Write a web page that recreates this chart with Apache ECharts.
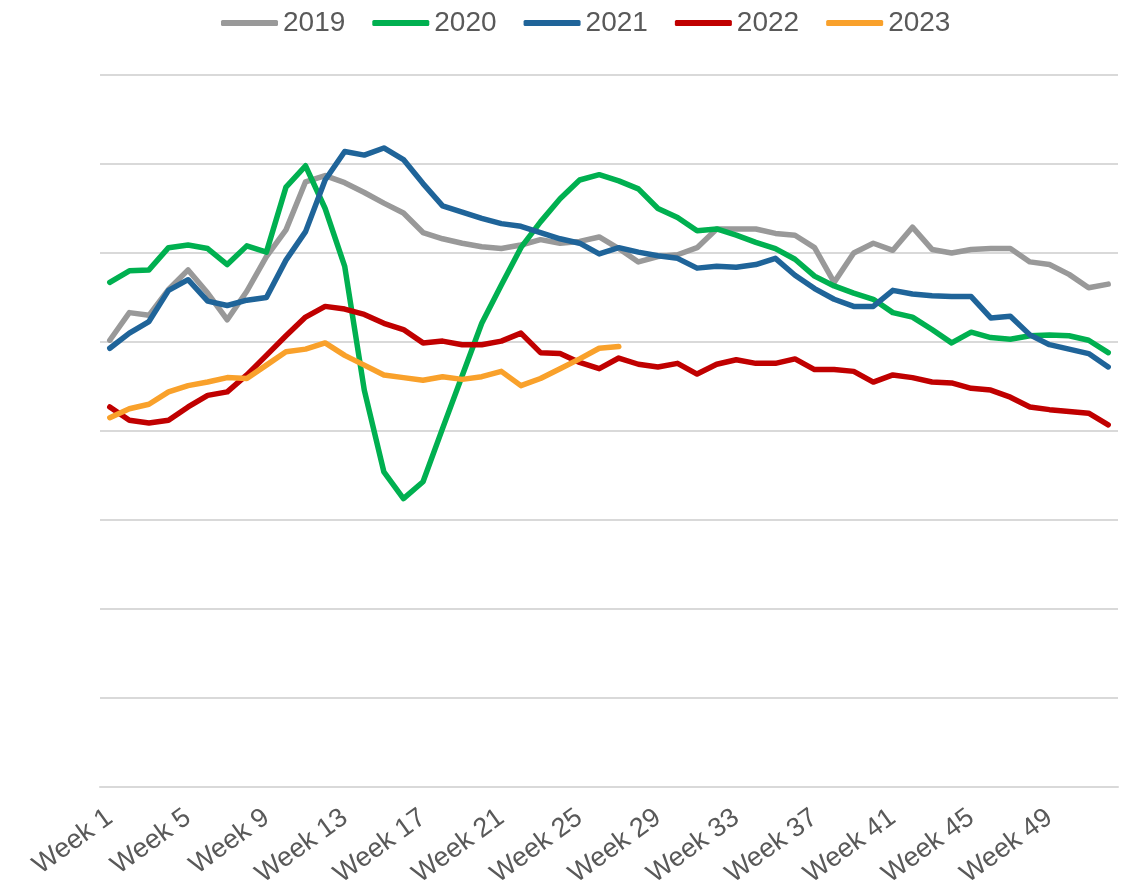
<!DOCTYPE html>
<html>
<head>
<meta charset="utf-8">
<script src="https://cdn.jsdelivr.net/npm/echarts@6/dist/echarts.min.js"></script>
<style>
html,body{margin:0;padding:0;background:#fff;}
#chart{width:1127px;height:892px;}
</style>
</head>
<body>
<div id="chart"></div>
<script>
const weeks = Array.from({length: 52}, (_, i) => 'Week ' + (i + 1));

const seriesNames = ['2019', '2020', '2021', '2022', '2023'];

const values2019 = [50.2, 53.3, 53.0, 55.9, 58.1, 55.5, 52.5, 55.7, 59.6, 62.6,
  68.0, 68.7, 67.9, 66.8, 65.6, 64.5, 62.3, 61.6, 61.1, 60.7,
  60.5, 60.9, 61.5, 61.1, 61.3, 61.8, 60.5, 59.0, 59.6, 59.8,
  60.6, 62.7, 62.7, 62.7, 62.2, 62.0, 60.6, 56.7, 60.0, 61.1,
  60.3, 62.9, 60.4, 60.0, 60.4, 60.5, 60.5, 59.0, 58.7, 57.6,
  56.1, 56.5];

const values2020 = [56.7, 58.0, 58.1, 60.6, 60.9, 60.5, 58.7, 60.8, 60.1, 67.4,
  69.8, 65.0, 58.5, 44.6, 35.4, 32.4, 34.3, 40.3, 46.2, 52.1,
  56.4, 60.6, 63.5, 66.1, 68.2, 68.8, 68.1, 67.2, 65.0, 64.0,
  62.5, 62.7, 62.0, 61.2, 60.5, 59.3, 57.4, 56.3, 55.5, 54.8,
  53.3, 52.8, 51.4, 49.9, 51.1, 50.5, 50.3, 50.7, 50.8, 50.7,
  50.2, 48.8];

const values2021 = [49.3, 51.0, 52.3, 55.8, 57.0, 54.6, 54.1, 54.7, 55.0, 59.2,
  62.4, 68.2, 71.4, 71.0, 71.8, 70.5, 67.8, 65.3, 64.6, 63.9,
  63.3, 63.0, 62.3, 61.6, 61.1, 59.9, 60.6, 60.1, 59.7, 59.4,
  58.3, 58.5, 58.4, 58.7, 59.4, 57.5, 56.0, 54.8, 54.0, 54.0,
  55.8, 55.4, 55.2, 55.1, 55.1, 52.7, 52.9, 50.8, 49.7, 49.2,
  48.7, 47.2];

const values2022 = [42.7, 41.2, 40.9, 41.2, 42.7, 44.0, 44.4, 46.3, 48.5, 50.7,
  52.8, 54.0, 53.7, 53.1, 52.1, 51.4, 49.9, 50.1, 49.7, 49.7,
  50.1, 51.0, 48.8, 48.7, 47.7, 47.0, 48.2, 47.5, 47.2, 47.6,
  46.4, 47.5, 48.0, 47.6, 47.6, 48.1, 46.9, 46.9, 46.7, 45.5,
  46.3, 46.0, 45.5, 45.4, 44.8, 44.6, 43.8, 42.7, 42.4, 42.2,
  42.0, 40.7];

const values2023 = [41.5, 42.5, 43.0, 44.4, 45.1, 45.5, 46.0, 45.9, 47.4, 48.9,
  49.2, 49.9, 48.5, 47.4, 46.3, 46.0, 45.7, 46.1, 45.8, 46.1,
  46.7, 45.1, 45.9, 47.0, 48.1, 49.3, 49.5];

const colors = ['#999999', '#00B050', '#1F6499', '#C00000', '#F9A12B'];
const allValues = [values2019, values2020, values2021, values2022, values2023];

const font = "'Liberation Sans', Arial, sans-serif";

const chart = echarts.init(document.getElementById('chart'), null, {renderer: 'canvas'});
chart.setOption({
  animation: false,
  backgroundColor: '#ffffff',
  color: colors,
  legend: {
    data: seriesNames,
    left: 216,
    top: 4,
    icon: 'roundRect',
    itemWidth: 57,
    itemHeight: 6,
    itemGap: 27,
    textStyle: {fontSize: 28, color: '#595959', fontFamily: font}
  },
  grid: {left: 100, right: 9, top: 75, bottom: 105, containLabel: false},
  xAxis: {
    type: 'category',
    data: weeks,
    boundaryGap: true,
    axisLine: {show: true, lineStyle: {color: '#d9d9d9', width: 2}},
    axisTick: {show: false},
    axisLabel: {
      interval: 3,
      rotate: 36,
      margin: 28,
      fontSize: 27,
      color: '#595959',
      fontFamily: font
    }
  },
  yAxis: {
    type: 'value',
    min: 0,
    max: 80,
    interval: 10,
    axisLabel: {show: false},
    axisLine: {show: false},
    axisTick: {show: false},
    splitLine: {show: true, lineStyle: {color: '#d9d9d9', width: 2}}
  },
  series: seriesNames.map((name, i) => ({
    name: name,
    type: 'line',
    data: allValues[i],
    symbol: 'none',
    smooth: false,
    lineStyle: {width: 5.5, color: colors[i], join: 'round', cap: 'round'},
    itemStyle: {color: colors[i]},
    z: 2 + i
  }))
});
</script>
</body>
</html>
